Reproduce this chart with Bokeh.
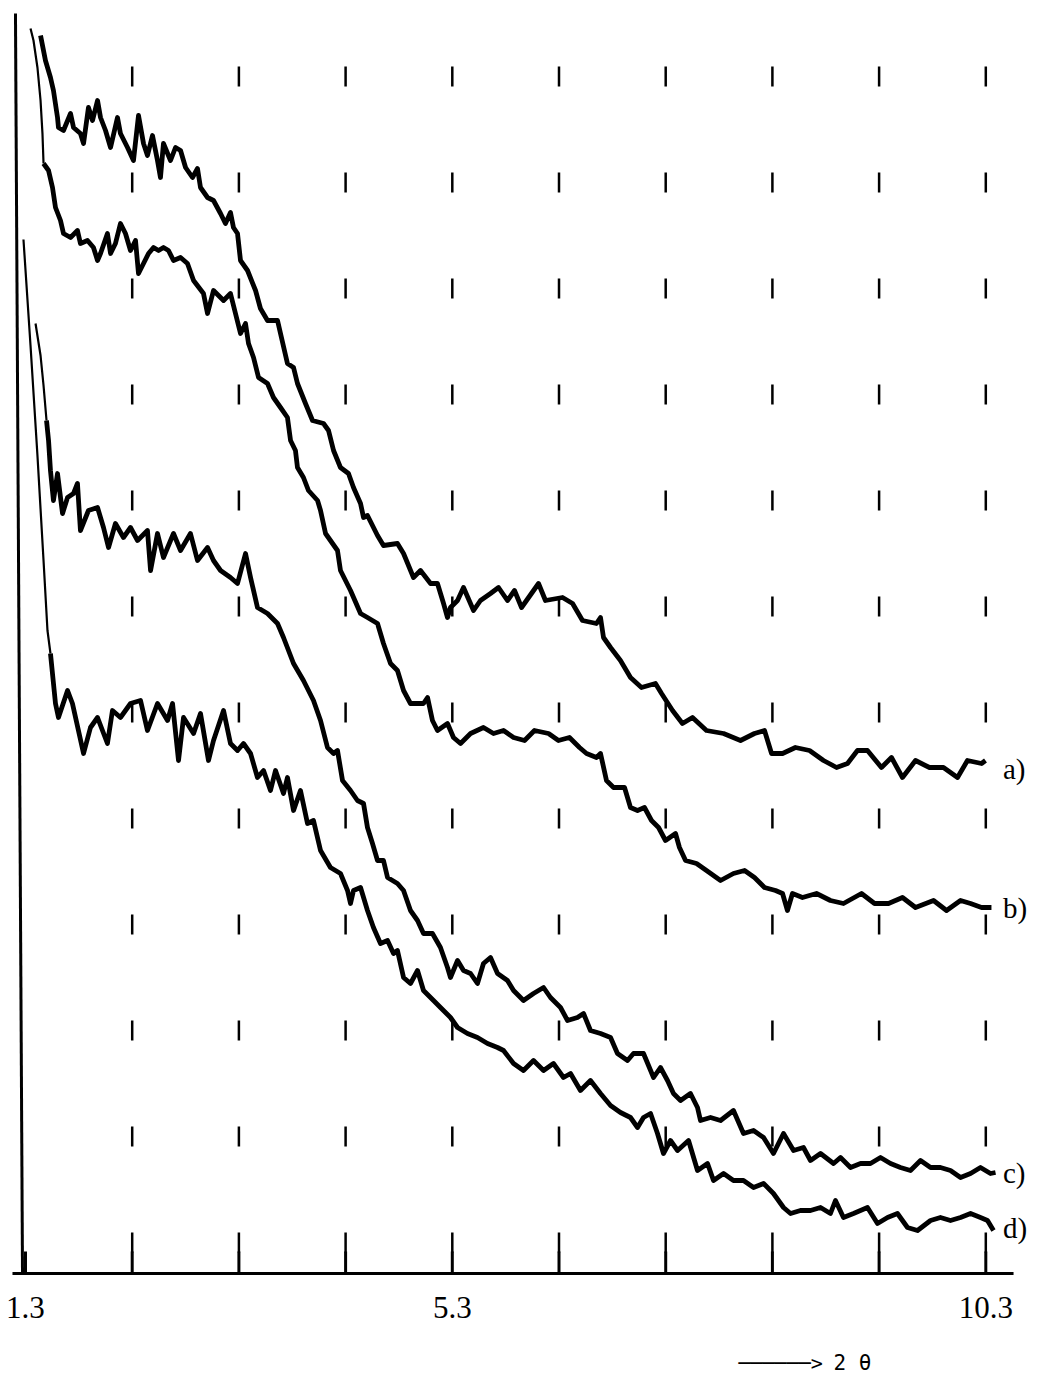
from bokeh.plotting import figure
from bokeh.models import Range1d, Label
from bokeh.core.properties import value
from bokeh.embed import file_html
from bokeh.resources import INLINE

# ---- data (2-theta in degrees, intensity in arbitrary units) ----
two_theta_a = [1.441, 1.487, 1.534, 1.562, 1.600, 1.609, 1.656, 1.722, 1.750, 1.815,
               1.844, 1.890, 1.928, 1.975, 2.003, 2.050, 2.097, 2.162, 2.190, 2.256,
               2.312, 2.359, 2.406, 2.443, 2.490, 2.537, 2.565, 2.593, 2.659, 2.706,
               2.753, 2.800, 2.865, 2.912, 2.940, 3.006, 3.062, 3.128, 3.174, 3.221,
               3.249, 3.287, 3.315, 3.381, 3.456, 3.502, 3.568, 3.662, 3.690, 3.755,
               3.812, 3.849, 3.924, 3.990, 4.093, 4.140, 4.187, 4.252, 4.327, 4.374,
               4.440, 4.468, 4.505, 4.599, 4.655, 4.786, 4.843, 4.936, 5.002, 5.096,
               5.161, 5.218, 5.255, 5.283, 5.349, 5.405, 5.499, 5.564, 5.658, 5.733,
               5.817, 5.883, 5.949, 6.108, 6.173, 6.333, 6.427, 6.520, 6.651, 6.689,
               6.717, 6.783, 6.876, 6.970, 7.073, 7.204, 7.261, 7.364, 7.457, 7.551,
               7.682, 7.842, 8.001, 8.132, 8.226, 8.292, 8.395, 8.516, 8.648, 8.779,
               8.901, 9.004, 9.097, 9.191, 9.322, 9.416, 9.519, 9.641, 9.772, 9.903,
               10.035, 10.128, 10.260, 10.297]
intensity_a = [1238, 1213, 1196, 1183, 1156, 1146, 1143, 1160, 1146, 1140,
               1130, 1166, 1153, 1173, 1156, 1143, 1126, 1156, 1140, 1126,
               1113, 1158, 1130, 1118, 1138, 1113, 1096, 1130, 1113, 1126,
               1123, 1106, 1096, 1105, 1086, 1076, 1073, 1060, 1050, 1061,
               1046, 1040, 1013, 1003, 983, 965, 953, 953, 940, 910,
               906, 890, 870, 853, 850, 843, 823, 806, 800, 786,
               770, 756, 758, 738, 728, 730, 720, 696, 703, 690,
               690, 670, 656, 666, 673, 686, 663, 673, 680, 686,
               673, 683, 666, 690, 673, 676, 670, 653, 650, 656,
               636, 626, 613, 596, 586, 590, 580, 563, 550, 556,
               543, 540, 533, 540, 543, 520, 520, 526, 523, 513,
               506, 510, 523, 523, 506, 516, 496, 513, 506, 506,
               496, 513, 510, 513]

two_theta_b = [1.347, 1.375, 1.412, 1.441, 1.459, 1.469, 1.516, 1.553, 1.581, 1.628,
               1.656, 1.722, 1.787, 1.815, 1.881, 1.937, 1.975, 2.003, 2.068, 2.097,
               2.143, 2.190, 2.237, 2.284, 2.331, 2.359, 2.406, 2.453, 2.500, 2.547,
               2.593, 2.640, 2.687, 2.753, 2.818, 2.875, 2.968, 3.006, 3.062, 3.156,
               3.221, 3.268, 3.315, 3.362, 3.390, 3.437, 3.484, 3.568, 3.624, 3.690,
               3.755, 3.784, 3.830, 3.849, 3.905, 3.952, 4.037, 4.065, 4.112, 4.158,
               4.224, 4.252, 4.346, 4.440, 4.505, 4.599, 4.655, 4.721, 4.786, 4.843,
               4.908, 5.030, 5.068, 5.114, 5.161, 5.255, 5.311, 5.377, 5.471, 5.592,
               5.686, 5.780, 5.874, 5.977, 6.070, 6.202, 6.295, 6.398, 6.492, 6.558,
               6.651, 6.689, 6.745, 6.811, 6.914, 6.970, 7.036, 7.101, 7.167, 7.233,
               7.298, 7.392, 7.429, 7.486, 7.589, 7.682, 7.814, 7.935, 8.039, 8.132,
               8.226, 8.329, 8.395, 8.441, 8.488, 8.582, 8.713, 8.844, 8.966, 9.135,
               9.257, 9.388, 9.519, 9.641, 9.810, 9.932, 10.063, 10.157, 10.260, 10.353]
intensity_b = [1245, 1233, 1206, 1173, 1140, 1110, 1103, 1086, 1066, 1053,
               1040, 1036, 1043, 1030, 1033, 1026, 1013, 1020, 1040, 1020,
               1030, 1050, 1040, 1023, 1033, 1000, 1010, 1020, 1026, 1023,
               1026, 1023, 1013, 1016, 1010, 993, 980, 960, 983, 973,
               980, 960, 940, 950, 930, 916, 896, 890, 876, 866,
               856, 833, 823, 806, 796, 783, 773, 763, 740, 733,
               723, 703, 683, 660, 656, 650, 630, 610, 603, 583,
               570, 570, 576, 553, 543, 550, 536, 530, 540, 546,
               540, 543, 536, 533, 543, 540, 533, 536, 526, 520,
               516, 520, 493, 486, 486, 466, 463, 466, 453, 446,
               433, 440, 426, 413, 410, 403, 393, 400, 403, 396,
               386, 383, 380, 363, 380, 376, 380, 373, 370, 380,
               370, 370, 376, 366, 373, 363, 373, 370, 366, 366]

two_theta_c = [1.394, 1.441, 1.469, 1.497, 1.516, 1.534, 1.562, 1.600, 1.647, 1.694,
               1.750, 1.787, 1.815, 1.890, 1.975, 2.031, 2.078, 2.143, 2.218, 2.284,
               2.350, 2.443, 2.472, 2.537, 2.593, 2.687, 2.753, 2.846, 2.912, 3.006,
               3.062, 3.128, 3.221, 3.287, 3.362, 3.409, 3.474, 3.568, 3.662, 3.718,
               3.812, 3.905, 3.999, 4.065, 4.130, 4.187, 4.224, 4.271, 4.346, 4.411,
               4.468, 4.505, 4.552, 4.599, 4.655, 4.693, 4.786, 4.843, 4.908, 4.974,
               5.030, 5.114, 5.189, 5.255, 5.283, 5.349, 5.405, 5.471, 5.536, 5.592,
               5.658, 5.724, 5.817, 5.874, 5.967, 6.061, 6.155, 6.220, 6.314, 6.380,
               6.473, 6.530, 6.595, 6.689, 6.783, 6.848, 6.942, 6.998, 7.092, 7.186,
               7.251, 7.317, 7.373, 7.439, 7.532, 7.598, 7.626, 7.720, 7.814, 7.935,
               8.029, 8.123, 8.217, 8.310, 8.404, 8.498, 8.591, 8.657, 8.751, 8.873,
               8.938, 9.032, 9.126, 9.219, 9.313, 9.407, 9.500, 9.594, 9.688, 9.782,
               9.875, 9.969, 10.063, 10.157, 10.250, 10.344, 10.391]
intensity_c = [950, 918, 888, 853, 833, 803, 773, 800, 760, 776,
               780, 790, 743, 763, 766, 746, 726, 750, 736, 746,
               733, 743, 703, 740, 716, 740, 723, 740, 713, 726,
               713, 703, 696, 690, 720, 696, 666, 660, 650, 636,
               610, 593, 573, 553, 526, 520, 523, 493, 483, 473,
               470, 446, 430, 413, 413, 396, 390, 383, 363, 353,
               340, 340, 326, 306, 296, 313, 303, 300, 290, 310,
               316, 300, 293, 283, 273, 280, 286, 276, 266, 253,
               256, 260, 243, 240, 236, 220, 213, 220, 220, 196,
               206, 193, 180, 173, 180, 166, 153, 156, 153, 163,
               140, 143, 136, 120, 140, 123, 126, 113, 120, 110,
               116, 106, 110, 110, 116, 110, 106, 103, 113, 106,
               106, 103, 96, 100, 106, 100, 101]

two_theta_d = [1.281, 1.347, 1.412, 1.469, 1.506, 1.534, 1.581, 1.609, 1.694, 1.740,
               1.844, 1.909, 1.975, 2.068, 2.115, 2.190, 2.284, 2.378, 2.443, 2.537,
               2.631, 2.678, 2.734, 2.781, 2.875, 2.940, 3.015, 3.062, 3.156, 3.221,
               3.287, 3.343, 3.409, 3.474, 3.531, 3.596, 3.643, 3.718, 3.755, 3.812,
               3.877, 3.943, 3.999, 4.065, 4.158, 4.252, 4.318, 4.346, 4.374, 4.440,
               4.505, 4.561, 4.627, 4.693, 4.749, 4.786, 4.843, 4.908, 4.974, 5.030,
               5.124, 5.189, 5.283, 5.349, 5.442, 5.536, 5.630, 5.724, 5.780, 5.874,
               5.967, 6.061, 6.155, 6.248, 6.342, 6.408, 6.501, 6.595, 6.689, 6.783,
               6.876, 6.970, 7.036, 7.092, 7.158, 7.223, 7.279, 7.345, 7.411, 7.514,
               7.598, 7.692, 7.748, 7.842, 7.935, 8.029, 8.123, 8.217, 8.310, 8.404,
               8.470, 8.563, 8.657, 8.751, 8.844, 8.891, 8.966, 9.060, 9.191, 9.285,
               9.379, 9.472, 9.566, 9.660, 9.782, 9.875, 9.969, 10.063, 10.157, 10.250,
               10.316, 10.372]
intensity_d = [1034, 928, 818, 713, 643, 620, 570, 556, 583, 570,
               520, 546, 556, 530, 563, 556, 570, 573, 543, 570,
               553, 570, 513, 556, 540, 560, 513, 533, 563, 530,
               523, 530, 520, 496, 503, 483, 503, 480, 496, 463,
               483, 450, 453, 423, 406, 400, 383, 370, 383, 386,
               363, 346, 330, 333, 320, 323, 296, 290, 303, 283,
               273, 266, 256, 246, 240, 236, 230, 226, 223, 210,
               203, 213, 203, 210, 196, 200, 183, 193, 180, 168,
               161, 156, 146, 156, 160, 140, 120, 133, 123, 133,
               103, 110, 93, 100, 93, 93, 86, 90, 80, 66,
               60, 63, 63, 66, 60, 73, 56, 60, 66, 50,
               56, 60, 46, 43, 53, 56, 53, 56, 60, 56,
               53, 43]

curve_names = ["a)", "b)", "c)", "d)"]
tick_values = [1.3, 2.3, 3.3, 4.3, 5.3, 6.3, 7.3, 8.3, 9.3, 10.3]
tick_labels = ["1.3", "", "", "", "5.3", "", "", "", "", "10.3"]
axis_arrow = "\u2500" * 6 + ">"
axis_title = "2  \u03b8"

# ---- layout / style constants ----
X_LO, X_HI = 1.0657, 10.7845      # visible 2-theta window
Y_LO, Y_HI = -100, 1273           # visible intensity window
AXIS_X0, AXIS_X1 = 1.178, 10.560  # extent of the drawn 2-theta axis line
TICK_LEN = 22
GRID_TOP = 1263
LABEL_DY = [-8, 0, 0, 3]          # small vertical nudges of the curve tags

p = figure(width=1037, height=1373, output_backend="svg", toolbar_location=None,
           x_range=Range1d(X_LO, X_HI), y_range=Range1d(Y_LO, Y_HI),
           x_axis_location=None, y_axis_location=None, min_border=0,
           outline_line_color=None, background_fill_color="white",
           border_fill_color="white")
p.xgrid.visible = False
p.ygrid.visible = False

grid_x = tick_values[1:]
# dashed vertical guide lines of the chart paper
p.segment(x0=grid_x, y0=[GRID_TOP] * len(grid_x), x1=grid_x, y1=[0] * len(grid_x),
          line_color="black", line_width=2.5, line_dash="20 86", line_dash_offset=50)

# 2-theta axis: line, inward ticks, labels
p.segment(x0=[AXIS_X0], y0=[0], x1=[AXIS_X1], y1=[0], line_color="black", line_width=3)
p.segment(x0=tick_values, y0=[0] * len(tick_values), x1=tick_values,
          y1=[TICK_LEN] * len(tick_values), line_color="black", line_width=3)
p.text(x=tick_values, y=[-34] * len(tick_values), text=tick_labels,
       text_font=value("Liberation Serif"), text_font_size="31px", text_color="black",
       text_align="center", text_baseline="middle")

# intensity axis (slightly slanted, as drawn by the recorder)
p.segment(x0=[1.206], y0=[1260], x1=[1.272], y1=[0], line_color="black", line_width=3)

curves = [(two_theta_a, intensity_a, 0), (two_theta_b, intensity_b, 5),
          (two_theta_c, intensity_c, 3), (two_theta_d, intensity_d, 5)]

for (xs, ys, k), name, dy in zip(curves, curve_names, LABEL_DY):
    if k > 0:
        p.line(xs[:k + 1], ys[:k + 1], line_color="black", line_width=2.2, line_join="round")
    p.line(xs[k:], ys[k:], line_color="black", line_width=4.8, line_join="round")
    p.add_layout(Label(x=10.46, y=ys[-1] + dy, text=name, text_font="Liberation Serif",
                       text_font_size="29px", text_color="black", text_baseline="middle",
                       text_align="left"))

p.add_layout(Label(x=7.982, y=-89, text=axis_arrow, text_font="DejaVu Sans Mono",
                   text_font_size="20px", text_color="black", text_baseline="middle",
                   text_align="left"))
p.add_layout(Label(x=8.873, y=-89, text=axis_title, text_font="DejaVu Sans Mono",
                   text_font_size="21px", text_color="black", text_baseline="middle",
                   text_align="left"))

open("out.html", "w").write(file_html(p, INLINE))
